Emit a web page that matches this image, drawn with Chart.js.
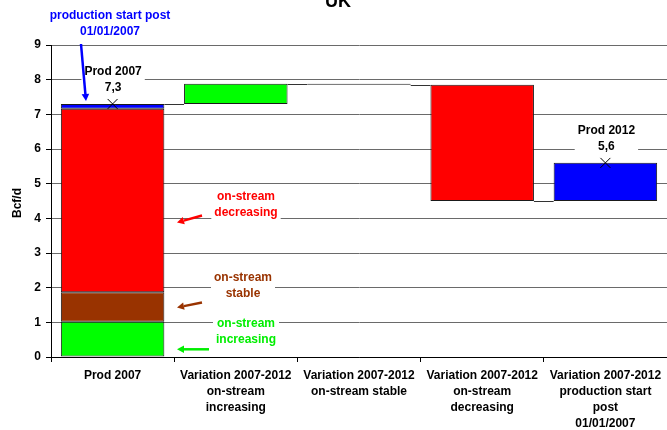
<!DOCTYPE html>
<html>
<head>
<meta charset="utf-8">
<script src="https://cdn.jsdelivr.net/npm/chart.js@4/dist/chart.umd.min.js"></script>
<style>
  html, body { margin: 0; padding: 0; background: #fff; }
  #c { display: block; }
</style>
</head>
<body>
<canvas id="c" width="667" height="430"></canvas>
<script>
// ---------------- DATA ----------------
const chartTitle = "UK";
const yAxisTitle = "Bcf/d";
const categories = [
  ["Prod 2007"],
  ["Variation 2007-2012", "on-stream", "increasing"],
  ["Variation 2007-2012", "on-stream stable"],
  ["Variation 2007-2012", "on-stream", "decreasing"],
  ["Variation 2007-2012", "production start", "post", "01/01/2007"]
];
const seriesNames = ["on-stream increasing", "on-stream stable", "on-stream decreasing", "production start post 01/01/2007"];
// composition of 2007 production (bottom to top)
const prod2007Parts = [1.02, 0.85, 5.29, 0.14];
// variation 2007-2012 for each component
const variations = [0.58, -0.03, -3.35, 1.10];
const totalLabels = ["Prod 2007", "Prod 2012"];
const totals = [7.3, 5.6];
const yTicks = [0, 1, 2, 3, 4, 5, 6, 7, 8, 9];

// ---------------- STYLES ----------------
const seriesColors = ["#00FF00", "#993300", "#FF0000", "#0000FF"];
const FONT = '"Liberation Sans", Arial, Helvetica, sans-serif';

// build floating bars (waterfall) from the data
const nCat = categories.length;
const seriesData = seriesNames.map(() => new Array(nCat).fill(null));
let base = 0;
prod2007Parts.forEach((v, i) => { seriesData[i][0] = [base, base + v]; base += v; });
let level = base;
const levels = [level];
variations.forEach((v, i) => {
  const next = level + v;
  seriesData[i][i + 1] = [Math.min(level, next), Math.max(level, next)];
  level = next;
  levels.push(level);
});
const markerData = new Array(nCat).fill(null);
markerData[0] = totals[0];
markerData[nCat - 1] = totals[1];

const datasets = seriesNames.map((name, i) => ({
  type: 'bar',
  label: name,
  data: seriesData[i],
  backgroundColor: (i === 1) ? (ctx => ctx.dataIndex === 0 ? seriesColors[i] : '#111') : seriesColors[i],
  borderColor: '#1a1a1a',
  borderWidth: 1,
  borderSkipped: false,
  barPercentage: 0.84,
  categoryPercentage: 1.0,
  order: 1
}));
datasets.push({
  type: 'line',
  label: 'totals',
  data: markerData,
  showLine: false,
  pointStyle: 'crossRot',
  pointRadius: 7,
  pointBorderColor: '#000',
  pointBorderWidth: 1,
  borderColor: '#000',
  order: 0
});

function fmt(v) { return v.toFixed(1).replace('.', ','); }

function drawArrow(ctx, x1, y1, x2, y2, color) {
  const ang = Math.atan2(y2 - y1, x2 - x1);
  const hl = 7, hw = 3.8;
  const bx = x2 - hl * Math.cos(ang), by = y2 - hl * Math.sin(ang);
  ctx.save();
  ctx.strokeStyle = color; ctx.fillStyle = color;
  ctx.lineWidth = 2.5;
  ctx.beginPath(); ctx.moveTo(x1, y1); ctx.lineTo(bx, by); ctx.stroke();
  ctx.beginPath();
  ctx.moveTo(x2, y2);
  ctx.lineTo(bx + hw * Math.sin(ang), by - hw * Math.cos(ang));
  ctx.lineTo(bx - hw * Math.sin(ang), by + hw * Math.cos(ang));
  ctx.closePath(); ctx.fill();
  ctx.restore();
}

function textBlock(ctx, lines, cx, cy0, color, box) {
  ctx.save();
  ctx.font = 'bold 12px ' + FONT;
  ctx.textAlign = 'center';
  ctx.textBaseline = 'middle';
  const lh = 16;
  if (box) {
    let w = 0;
    lines.forEach(l => { w = Math.max(w, ctx.measureText(l).width); });
    ctx.fillStyle = '#fff';
    ctx.fillRect(cx - w / 2 - 3, cy0 - 9, w + 6, lh * (lines.length - 1) + 18);
  } else {
    ctx.fillStyle = color;
    lines.forEach((l, i) => ctx.fillText(l, cx, cy0 + i * lh));
  }
  ctx.restore();
}

// annotation definitions (text near the gap between bars)
const notes = [
  { lines: ["on-stream", "decreasing"], cx: 246, cy: 197, color: "#FF0000", arrow: [202, 215.5, 177, 222.5] },
  { lines: ["on-stream", "stable"], cx: 243, cy: 277.5, color: "#993300", arrow: [202, 302.5, 177, 307.5] },
  { lines: ["on-stream", "increasing"], cx: 246, cy: 324, color: "#00EE00", arrow: [209, 349.3, 177, 349.3] }
];

const annot = {
  id: 'annot',
  beforeDatasetsDraw(chart) {
    const ctx = chart.ctx;
    const xs = chart.scales.x, ys = chart.scales.y;
    // white boxes behind labels
    totals.forEach((t, k) => {
      const idx = k === 0 ? 0 : nCat - 1;
      const cx = xs.getPixelForValue(idx) + (k === 0 ? 0.5 : 1);
      const py = ys.getPixelForValue(t);
      textBlock(ctx, [totalLabels[k], fmt(t)], cx, py - 32.5, '#000', true);
    });
    notes.forEach(n => textBlock(ctx, n.lines, n.cx, n.cy, n.color, true));
    // connectors
    const step = xs.getPixelForValue(1) - xs.getPixelForValue(0);
    const half = step * 0.84 / 2;
    ctx.save();
    ctx.strokeStyle = '#333';
    ctx.lineWidth = 1;
    for (let i = 0; i < nCat - 1; i++) {
      const y = Math.round(ys.getPixelForValue(levels[i])) + 0.5;
      ctx.beginPath();
      ctx.moveTo(xs.getPixelForValue(i) + half, y);
      ctx.lineTo(xs.getPixelForValue(i + 1) - half, y);
      ctx.stroke();
    }
    ctx.restore();
  },
  afterDatasetsDraw(chart) {
    const ctx = chart.ctx;
    const xs = chart.scales.x, ys = chart.scales.y;
    totals.forEach((t, k) => {
      const idx = k === 0 ? 0 : nCat - 1;
      const cx = xs.getPixelForValue(idx) + (k === 0 ? 0.5 : 1);
      const py = ys.getPixelForValue(t);
      textBlock(ctx, [totalLabels[k], fmt(t)], cx, py - 32.5, '#000', false);
    });
    notes.forEach(n => {
      textBlock(ctx, n.lines, n.cx, n.cy, n.color, false);
      drawArrow(ctx, n.arrow[0], n.arrow[1], n.arrow[2], n.arrow[3], n.color);
    });
    // production start post label + arrow
    textBlock(ctx, ["production start post", "01/01/2007"], 110, 15.5, '#0000FF', false);
    drawArrow(ctx, 81, 44, 86, 101, '#0000FF');
  },
  afterDraw(chart) {
    const ctx = chart.ctx;
    ctx.save();
    ctx.fillStyle = '#000';
    ctx.font = 'bold 18px ' + FONT;
    ctx.textAlign = 'center';
    ctx.textBaseline = 'alphabetic';
    ctx.fillText(chartTitle, 338, 6.5);
    ctx.font = 'bold 12px ' + FONT;
    ctx.translate(18, 203);
    ctx.rotate(-Math.PI / 2);
    ctx.textBaseline = 'middle';
    ctx.fillText(yAxisTitle, 0, 0);
    ctx.restore();
  }
};

new Chart(document.getElementById('c'), {
  data: { labels: categories, datasets: datasets },
  options: {
    responsive: false,
    animation: false,
    devicePixelRatio: 1,
    layout: { autoPadding: false, padding: { top: 45, left: 0, right: 0, bottom: 0 } },
    plugins: { legend: { display: false }, tooltip: { enabled: false }, title: { display: false } },
    scales: {
      x: {
        type: 'category',
        stacked: true,
        offset: true,
        grid: { offset: true, drawOnChartArea: false, drawTicks: true, tickLength: 5, color: '#000' },
        border: { color: '#000', width: 1 },
        ticks: {
          color: '#000', padding: 6, maxRotation: 0, autoSkip: false,
          font: { family: FONT, size: 12, weight: 'bold', lineHeight: 1.333 }
        },
        afterFit(s) { s.height = 73; s.paddingLeft = 0; s.paddingRight = 0; }
      },
      y: {
        min: yTicks[0], max: yTicks[yTicks.length - 1],
        afterBuildTicks(s) { s.ticks = yTicks.map(v => ({ value: v })); },
        ticks: { color: '#000', padding: 5, font: { family: FONT, size: 12, weight: 'bold' } },
        grid: { color: '#6a6a6a', tickColor: '#000', tickLength: 5, lineWidth: 1 },
        border: { color: '#000', width: 1 },
        afterFit(s) { s.width = 51; s.paddingTop = 0; s.paddingBottom = 0; }
      }
    }
  },
  plugins: [annot]
});
</script>
</body>
</html>
